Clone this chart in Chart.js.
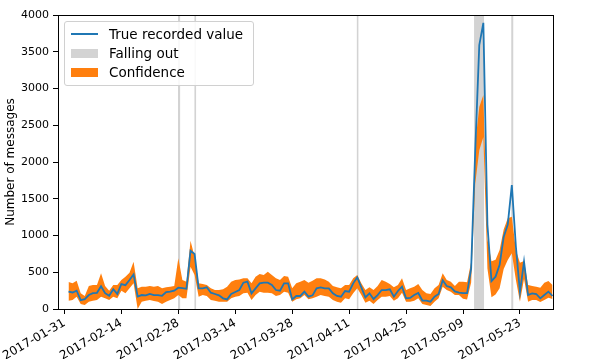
<!DOCTYPE html>
<html>
<head>
<meta charset="utf-8">
<script src="https://cdn.jsdelivr.net/npm/chart.js@4.4.1/dist/chart.umd.min.js"></script>
<style>
    html, body { margin: 0; padding: 0; background: #fff; }
    #wrap { position: relative; width: 598px; height: 359px; }
    #legend {
        position: absolute; left: 64px; top: 21px;
        padding: 2px 10px 3px 6px;
        border: 1px solid #d0d0d0; border-radius: 3px;
        background: rgba(255, 255, 255, 0.85);
        font-family: 'DejaVu Sans', sans-serif; font-size: 13.5px; color: #000;
    }
    .legend-row { display: flex; align-items: center; height: 19.4px; }
    .legend-handle { width: 27px; margin-right: 11px; }
</style>
</head>
<body>
<div id="wrap">
    <canvas id="chart" width="598" height="359"></canvas>
    <div id="legend"></div>
</div>
<script>
// ==================== Data ====================

const firstDay = '2017-02-01';   // one value per day from here
const axisOrigin = '2017-01-31'; // first date tick
const tickLabels = ['2017-01-31', '2017-02-14', '2017-02-28', '2017-03-14', '2017-03-28',
                    '2017-04-11', '2017-04-25', '2017-05-09', '2017-05-23'];

const recorded = [
    235, 225, 250, 120, 135, 190, 215, 220, 310, 215, 180, 270, 205, 340, 325, 395, 470, 170, 190, 185,
    205, 190, 190, 180, 230, 235, 250, 290,
    285, 275, 793, 748, 281, 281, 295, 222, 204, 186, 145, 131, 204, 231, 258, 358, 372, 213, 281, 349,
    358, 358, 326, 258, 249, 349, 349, 131, 177, 177, 236,
    168, 186, 281, 295, 281, 281, 213, 177, 168, 245, 236, 349, 431, 295, 159, 213, 136, 190, 258, 258,
    268, 168, 245, 304, 145, 150, 190, 218, 115, 113,
    100, 168, 205, 390, 313, 295, 240, 222, 215, 215, 550, 2150, 3590, 3894, 1150, 380, 440, 600, 980, 1150,
    1686, 850, 230, 644, 190, 213, 204, 145, 190, 236, 177
];

const confHigh = [
    367, 349, 385, 213, 177, 313, 326, 326, 485, 313, 249, 326, 326, 394, 440, 494, 644, 281, 304, 304,
    313, 304, 313, 281, 295, 304, 313, 690,
    394, 372, 929, 712, 349, 340, 326, 281, 258, 258, 268, 304, 372, 394, 403, 417, 417, 349, 440, 476,
    462, 508, 462, 417, 394, 449, 440, 281, 349, 372, 394,
    358, 385, 417, 417, 403, 372, 313, 295, 281, 326, 326, 417, 462, 349, 258, 295, 258, 313, 394, 372,
    340, 295, 326, 417, 258, 281, 304, 340, 258, 213,
    204, 281, 326, 485, 394, 372, 313, 372, 372, 365, 640, 2250, 2750, 2910, 950, 650, 671, 803, 1080, 1233,
    1255, 800, 630, 653, 326, 313, 304, 290, 358, 381, 326
];

const confLow = [
    113, 122, 168, 68, 54, 100, 113, 122, 168, 145, 122, 168, 145, 249, 213, 281, 349, 0, 100, 113,
    122, 109, 100, 68, 100, 122, 145, 190,
    145, 145, 576, 462, 168, 190, 177, 122, 113, 100, 100, 100, 145, 168, 177, 213, 222, 122, 190, 236,
    222, 222, 213, 177, 190, 236, 222, 100, 131, 145, 190,
    131, 145, 168, 190, 177, 168, 122, 100, 86, 145, 131, 213, 281, 190, 86, 113, 68, 122, 168, 168,
    177, 113, 145, 222, 100, 100, 113, 145, 68, 54,
    41, 100, 145, 304, 258, 236, 190, 190, 140, 130, 360, 1700, 2160, 2340, 550, 160, 197, 281, 544, 666,
    757, 394, 100, 408, 100, 122, 122, 95, 122, 154, 136
];

// periods where the data source dropped out
const fallingOut = [
    ['2017-02-27T22:00', '2017-02-28T12:00'],
    ['2017-03-03T22:00', '2017-03-04T10:00'],
    ['2017-04-12T20:00', '2017-04-13T08:00'],
    ['2017-05-11T17:00', '2017-05-14T05:00'],
    ['2017-05-20T20:00', '2017-05-21T10:00']
];

const yMax = 4000;

// ==================== Helpers ====================

const DAY = 86400000;
const originMs = Date.parse(axisOrigin + 'T00:00Z');

function toDay(str) {
    const full = str.length === 10 ? str + 'T00:00' : str;
    return (Date.parse(full + 'Z') - originMs) / DAY;
}

const start = toDay(firstDay);
const series = arr => arr.map((v, i) => ({ x: start + i, y: v }));

const gray = '#d3d3d3';
const orange = '#ff7f0e';
const blue = '#1f77b4';

const bandSets = fallingOut.map((span, i) => ({
    label: i === 0 ? 'Falling out' : '',
    data: [{ x: toDay(span[0]), y: yMax }, { x: toDay(span[1]), y: yMax }],
    borderWidth: 0,
    pointRadius: 0,
    backgroundColor: gray,
    fill: 'start',
    order: 3
}));

// ==================== Chart ====================

const frame = {
    id: 'frame',
    afterDraw(chart) {
        const { ctx, chartArea: a } = chart;
        ctx.save();
        ctx.strokeStyle = '#000';
        ctx.lineWidth = 1;
        ctx.strokeRect(Math.round(a.left) + 0.5, Math.round(a.top) + 0.5,
                       Math.round(a.right - a.left), Math.round(a.bottom - a.top));
        ctx.restore();
    }
};

const fontFamily = "'DejaVu Sans', sans-serif";

const chart = new Chart(document.getElementById('chart'), {
    type: 'line',
    data: {
        datasets: [
            {
                label: 'True recorded value',
                data: series(recorded),
                borderColor: blue,
                borderWidth: 1.8,
                pointRadius: 0,
                tension: 0,
                fill: false,
                order: 0
            },
            {
                label: '',
                data: series(confLow),
                borderWidth: 0,
                pointRadius: 0,
                fill: false,
                order: 2
            },
            {
                label: 'Confidence',
                data: series(confHigh),
                borderWidth: 0,
                pointRadius: 0,
                backgroundColor: orange,
                fill: '-1',
                order: 1
            },
            ...bandSets
        ]
    },
    options: {
        responsive: false,
        animation: false,
        devicePixelRatio: 1,
        layout: { padding: { left: 4, top: 15, right: 45, bottom: 0 } },
        plugins: {
            legend: { display: false },
            tooltip: { enabled: false }
        },
        scales: {
            x: {
                type: 'linear',
                min: toDay('2017-01-29T10:00'),
                max: toDay('2017-05-31T03:00'),
                afterBuildTicks(scale) {
                    scale.ticks = tickLabels.map(t => ({ value: toDay(t) }));
                },
                afterFit(scale) { scale.height = 50; },
                grid: {
                    drawOnChartArea: false,
                    drawTicks: true,
                    tickLength: 5,
                    color: '#000'
                },
                border: { color: '#000', width: 1 },
                ticks: {
                    autoSkip: false,
                    minRotation: 30,
                    maxRotation: 30,
                    padding: 2,
                    color: '#000',
                    font: { family: fontFamily, size: 12 },
                    callback(value) {
                        const d = new Date(originMs + Math.round(value) * DAY);
                        return d.toISOString().slice(0, 10);
                    }
                }
            },
            y: {
                min: 0,
                max: yMax,
                afterFit(scale) { scale.width = 54; },
                grid: {
                    drawOnChartArea: false,
                    drawTicks: true,
                    tickLength: 5,
                    color: '#000'
                },
                border: { color: '#000', width: 1 },
                ticks: {
                    stepSize: 500,
                    padding: 4,
                    color: '#000',
                    font: { family: fontFamily, size: 11 },
                    callback: value => String(value)
                },
                title: {
                    display: true,
                    text: 'Number of messages',
                    color: '#000',
                    font: { family: fontFamily, size: 12 },
                    padding: { top: 0, bottom: 2 }
                }
            }
        }
    },
    plugins: [frame]
});

// ==================== Legend ====================

function buildLegend(chart) {
    const box = document.getElementById('legend');
    const wanted = ['True recorded value', 'Falling out', 'Confidence'];
    wanted.forEach(name => {
        const ds = chart.data.datasets.find(d => d.label === name);
        if (!ds) return;
        const row = document.createElement('div');
        row.className = 'legend-row';
        const handle = document.createElement('span');
        handle.className = 'legend-handle';
        if (ds.fill === false) {
            handle.style.height = '0';
            handle.style.borderTop = '2px solid ' + ds.borderColor;
        } else {
            handle.style.height = '9px';
            handle.style.background = ds.backgroundColor;
        }
        const text = document.createElement('span');
        text.textContent = name;
        row.appendChild(handle);
        row.appendChild(text);
        box.appendChild(row);
    });
}

buildLegend(chart);
</script>
</body>
</html>
